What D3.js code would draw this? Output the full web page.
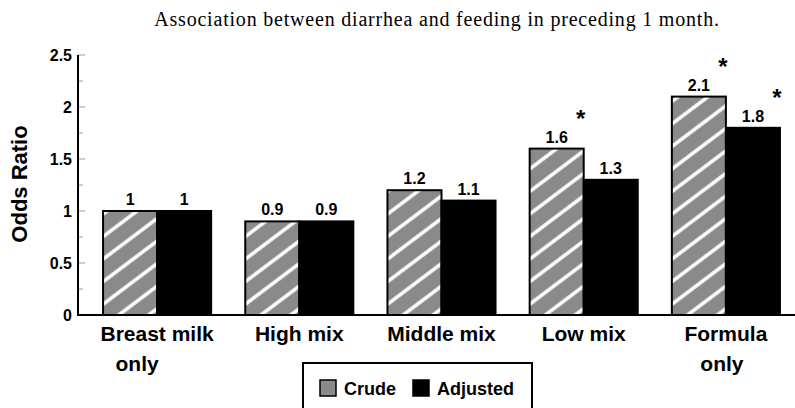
<!DOCTYPE html>
<html>
<head>
<meta charset="utf-8">
<script src="https://cdn.jsdelivr.net/npm/d3@7"></script>
<style>
	body { margin: 0; background: #fff; }
	svg { display: block; }
	.axis-title, .tick-label, .cat-label, .val-label, .legend text { font-family: 'Liberation Sans', Arial, sans-serif; font-weight: bold; fill: #000; }
	.title { font-family: 'Liberation Serif', 'Times New Roman', serif; fill: #000; }
</style>
</head>
<body>
<svg id="chart"></svg>
<script>
const WIDTH = 795;
const HEIGHT = 408;

const categories = ['Breast milk\nonly', 'High mix', 'Middle mix', 'Low mix', 'Formula\nonly'];
const crude = [1, 0.9, 1.2, 1.6, 2.1];
const adjusted = [1, 0.9, 1.1, 1.3, 1.8];
const crudeSig = [false, false, false, true, true];
const adjustedSig = [false, false, false, false, true];
const labelsCrude = ['1', '0.9', '1.2', '1.6', '2.1'];
const labelsAdjusted = ['1', '0.9', '1.1', '1.3', '1.8'];
const yTicks = [0, 0.5, 1, 1.5, 2, 2.5];
const yMinorTicks = [0.25, 0.75, 1.25, 1.75, 2.25];
const seriesNames = ['Crude', 'Adjusted'];

const axisX = 78;
const baseY = 315;

const svg = d3.select('#chart').attr('width', WIDTH).attr('height', HEIGHT);

// hatch for the crude bars
const defs = svg.append('defs');
const pat = defs.append('pattern')
	.attr('id', 'hatch')
	.attr('patternUnits', 'userSpaceOnUse')
	.attr('width', 18)
	.attr('height', 18)
	.attr('patternTransform', 'rotate(-37)');
pat.append('rect').attr('width', 18).attr('height', 18).attr('fill', '#8a8a8a');
pat.append('line')
	.attr('x1', 0).attr('x2', 18)
	.attr('y1', 9).attr('y2', 9)
	.attr('stroke', '#fff')
	.attr('stroke-width', 3.5);

const y = d3.scaleLinear().domain([0, 2.5]).range([baseY, 55]);

const x0 = d3.scaleBand()
	.domain(categories)
	.range([86, 797])
	.paddingInner(0.24)
	.paddingOuter(0.12);

const x1 = d3.scaleBand()
	.domain(seriesNames)
	.range([0, x0.bandwidth()]);

const rows = categories.map((c, i) => [
	{ cat: c, key: 'Crude', value: crude[i], label: labelsCrude[i], sig: crudeSig[i] },
	{ cat: c, key: 'Adjusted', value: adjusted[i], label: labelsAdjusted[i], sig: adjustedSig[i] }
]);

// title
svg.append('text')
	.attr('class', 'title')
	.attr('x', 437)
	.attr('y', 26)
	.attr('text-anchor', 'middle')
	.attr('font-size', 20)
	.attr('letter-spacing', 0.8)
	.text('Association between diarrhea and feeding in preceding 1 month.');

// bars
const group = svg.append('g')
	.selectAll('g')
	.data(rows)
	.join('g')
	.attr('transform', d => `translate(${x0(d[0].cat)},0)`);

group.selectAll('rect')
	.data(d => d)
	.join('rect')
	.attr('x', d => x1(d.key))
	.attr('y', d => y(d.value))
	.attr('width', x1.bandwidth())
	.attr('height', d => baseY - y(d.value))
	.attr('fill', d => (d.key === 'Crude' ? 'url(#hatch)' : '#000'))
	.attr('stroke', '#000')
	.attr('stroke-width', 2);

group.selectAll('text.val-label')
	.data(d => d)
	.join('text')
	.attr('class', 'val-label')
	.attr('x', d => x1(d.key) + x1.bandwidth() / 2)
	.attr('y', d => y(d.value) - 6)
	.attr('text-anchor', 'middle')
	.attr('font-size', 16)
	.text(d => d.label);

group.selectAll('text.star')
	.data(d => d.filter(e => e.sig))
	.join('text')
	.attr('class', 'val-label star')
	.attr('x', d => x1(d.key) + x1.bandwidth() - 3)
	.attr('y', d => y(d.value) - 22)
	.attr('text-anchor', 'middle')
	.attr('font-size', 24)
	.text('*');

// y axis
const yAxis = svg.append('g');
yAxis.selectAll('line.major')
	.data(yTicks)
	.join('line')
	.attr('x1', axisX).attr('x2', axisX + 7)
	.attr('y1', d => y(d)).attr('y2', d => y(d))
	.attr('stroke', '#999')
	.attr('stroke-width', 1);
yAxis.selectAll('line.minor')
	.data(yMinorTicks)
	.join('line')
	.attr('class', 'minor')
	.attr('x1', axisX).attr('x2', axisX + 5)
	.attr('y1', d => y(d)).attr('y2', d => y(d))
	.attr('stroke', '#999')
	.attr('stroke-width', 1);
yAxis.selectAll('text')
	.data(yTicks)
	.join('text')
	.attr('class', 'tick-label')
	.attr('x', axisX - 6)
	.attr('y', d => y(d))
	.attr('dy', '0.36em')
	.attr('text-anchor', 'end')
	.attr('font-size', 16)
	.text(d => d3.format('')(d));
yAxis.append('line')
	.attr('x1', axisX).attr('x2', axisX)
	.attr('y1', y(2.5)).attr('y2', baseY)
	.attr('stroke', '#000')
	.attr('stroke-width', 2);

svg.append('text')
	.attr('class', 'axis-title')
	.attr('transform', `translate(27,${184}) rotate(-90)`)
	.attr('text-anchor', 'middle')
	.attr('font-size', 22)
	.text('Odds Ratio');

// x axis
svg.append('line')
	.attr('x1', axisX - 1).attr('x2', WIDTH)
	.attr('y1', baseY).attr('y2', baseY)
	.attr('stroke', '#000')
	.attr('stroke-width', 2);

const catLabels = svg.append('g')
	.selectAll('text')
	.data(categories)
	.join('text')
	.attr('class', 'cat-label')
	.attr('text-anchor', 'middle')
	.attr('font-size', 21)
	.attr('x', d => x0(d) + x0.bandwidth() / 2)
	.attr('y', 341);

// second line of the first label sits a little left in the original
catLabels.selectAll('tspan')
	.data((d, i) => d.split('\n').map((t, j) => ({ t, shift: i === 0 && j ? -20 : (j ? -4 : 0) })))
	.join('tspan')
	.attr('x', function(d) { return +d3.select(this.parentNode).attr('x') + d.shift; })
	.attr('dy', (d, i) => (i ? 30 : 0))
	.text(d => d.t);

// legend
const legend = svg.append('g').attr('class', 'legend');
legend.append('rect')
	.attr('x', 303).attr('y', 363)
	.attr('width', 229).attr('height', 60)
	.attr('fill', '#fff')
	.attr('stroke', '#000')
	.attr('stroke-width', 2);

const legendX = [320, 413];
seriesNames.forEach((s, i) => {
	legend.append('rect')
		.attr('x', legendX[i]).attr('y', 380)
		.attr('width', 16).attr('height', 16)
		.attr('fill', i ? '#000' : '#8a8a8a')
		.attr('stroke', '#000')
		.attr('stroke-width', 1.5);
	legend.append('text')
		.attr('x', legendX[i] + 24)
		.attr('y', 395)
		.attr('font-size', 18)
		.text(s);
});
</script>
</body>
</html>
